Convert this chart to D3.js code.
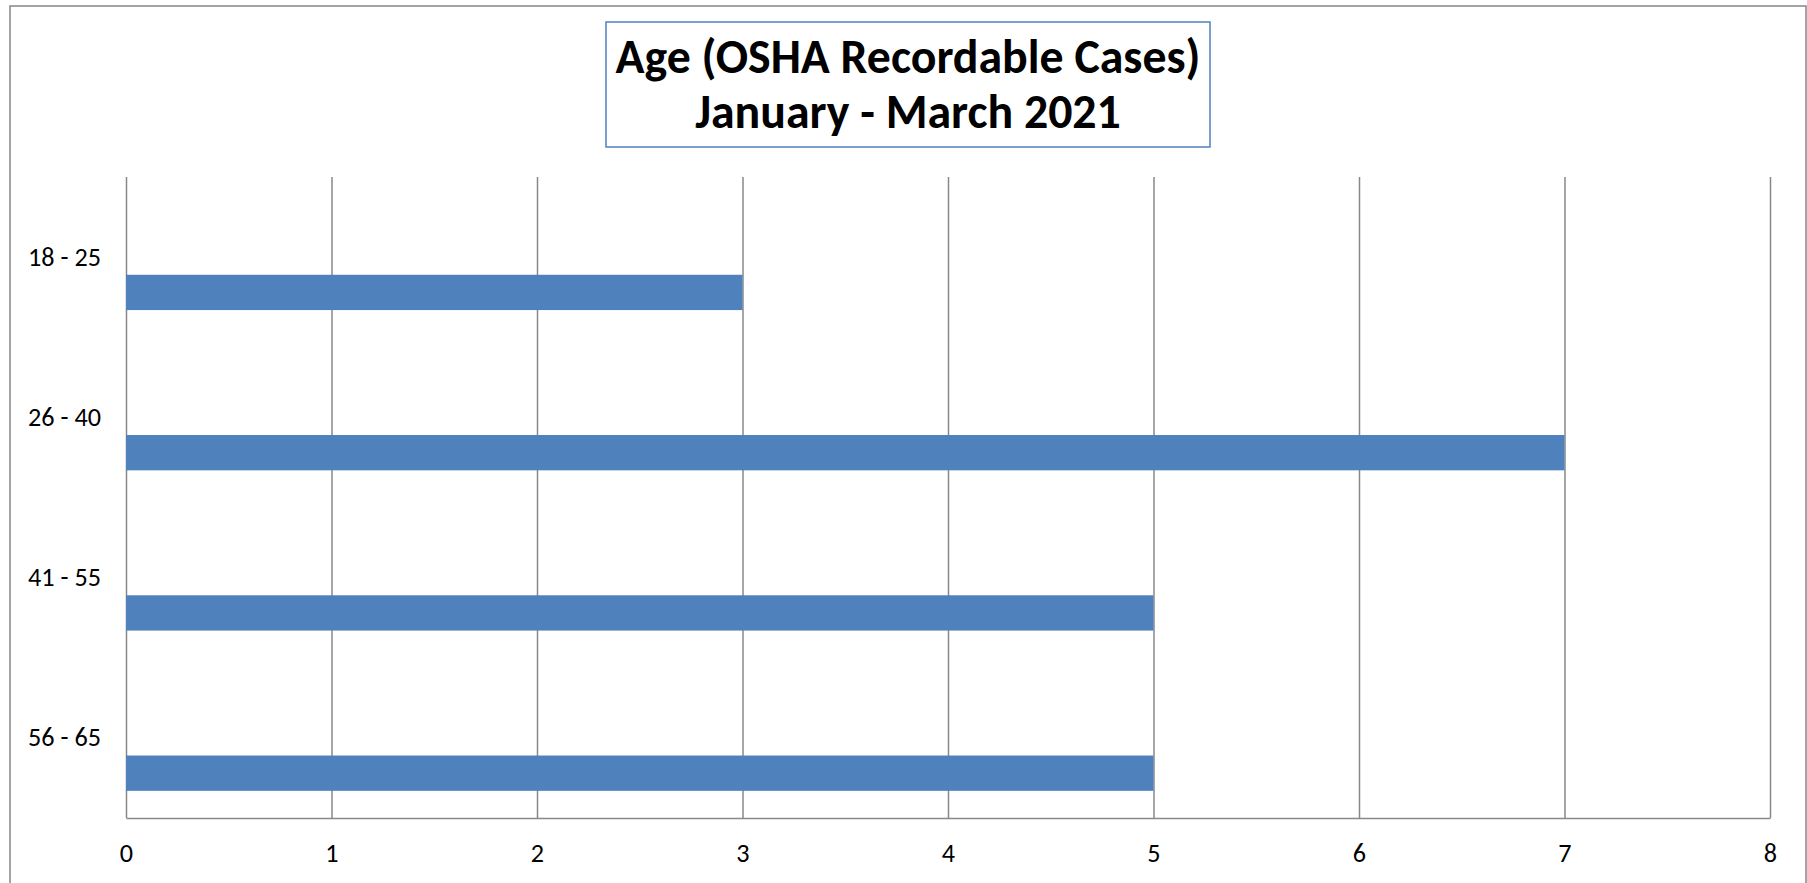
<!DOCTYPE html>
<html>
<head>
<meta charset="utf-8">
<script src="https://cdn.jsdelivr.net/npm/d3@7"></script>
<style>
  html, body { margin: 0; padding: 0; background: #fff; overflow: hidden; }
  svg { display: block; }
</style>
</head>
<body>
<svg id="chart" width="1807" height="883"></svg>
<script>
// ---- data ----
const categories = ["18 - 25", "26 - 40", "41 - 55", "56 - 65"];
const cases = [3, 7, 5, 5];
const xTicks = [0, 1, 2, 3, 4, 5, 6, 7, 8];
const titleLines = ["Age (OSHA Recordable Cases)", "January - March 2021"];

// ---- layout ----
const plot = { left: 126, right: 1770, top: 177, bottom: 818 };
const FONT = "Carlito, Calibri, Lato, 'Open Sans', sans-serif";
const barColor = "#4F81BD";
const gridColor = "#888888";

const svg = d3.select("#chart");

// outer chart border (extends below viewport as in reference)
svg.append("rect")
  .attr("x", 10).attr("y", 6)
  .attr("width", 1796).attr("height", 920)
  .attr("fill", "#fff")
  .attr("stroke", "#868686").attr("stroke-width", 1.5);

const x = d3.scaleLinear().domain([0, 8]).range([plot.left, plot.right]);
const y = d3.scaleBand().domain(categories).range([plot.top, plot.bottom]).padding(0);
// series slot inside each category band (bar occupies the 3rd of 3 slots, Excel-style gap)
const slot = d3.scaleBand().domain([0, 1, 2]).range([0, y.bandwidth()]).paddingInner(0).paddingOuter(0.77);

// gridlines + axis via d3 axis
const xAxis = d3.axisBottom(x)
  .tickValues(xTicks)
  .tickFormat(d3.format("d"))
  .tickSizeInner(-(plot.bottom - plot.top))
  .tickSizeOuter(0)
  .tickPadding(0);

const gx = svg.append("g")
  .attr("transform", `translate(0,${plot.bottom})`)
  .call(xAxis);
gx.select(".domain").attr("stroke", gridColor).attr("stroke-width", 1.5);
gx.selectAll(".tick line").attr("stroke", gridColor).attr("stroke-width", 1.5);
gx.selectAll(".tick text")
  .attr("y", 44)
  .attr("dy", null)
  .attr("fill", "#000")
  .style("font-family", FONT)
  .style("font-size", "24px");

// bars
svg.append("g").selectAll("rect")
  .data(categories.map((c, i) => ({ c, v: cases[i] })))
  .join("rect")
  .attr("x", x(0))
  .attr("y", d => y(d.c) + slot(2))
  .attr("width", d => x(d.v) - x(0))
  .attr("height", slot.bandwidth())
  .attr("fill", barColor);

// category labels
const catText = svg.append("g").selectAll("text")
  .data(categories)
  .join("text")
  .attr("x", 101)
  .attr("y", d => y(d) + y.bandwidth() / 2 + 8.5)
  .attr("text-anchor", "end")
  .attr("fill", "#000")
  .style("font-family", FONT)
  .style("font-size", "24px")
  .text(d => d);

// fit label font so "26 - 40" is ~73px wide
(function fitLabels() {
  const n = catText.nodes()[1];
  const w = n.getComputedTextLength();
  const fs = 24 * 73 / w;
  catText.style("font-size", fs + "px");
  gx.selectAll(".tick text").style("font-size", fs + "px");
})();

// title box
svg.append("rect")
  .attr("x", 606).attr("y", 22)
  .attr("width", 604).attr("height", 125)
  .attr("fill", "#fff")
  .attr("stroke", "#4F81BD").attr("stroke-width", 1.5);

const titleText = svg.append("g").selectAll("text")
  .data(titleLines)
  .join("text")
  .attr("x", 908)
  .attr("y", (d, i) => i === 0 ? 73 : 128)
  .attr("text-anchor", "middle")
  .attr("fill", "#000")
  .style("font-family", FONT)
  .style("font-weight", "bold")
  .style("font-size", "44px")
  .text(d => d);

(function fitTitle() {
  const n = titleText.nodes()[0];
  const w = n.getComputedTextLength();
  const fs = 44 * 585 / w;
  titleText.style("font-size", fs + "px");
})();
</script>
</body>
</html>
